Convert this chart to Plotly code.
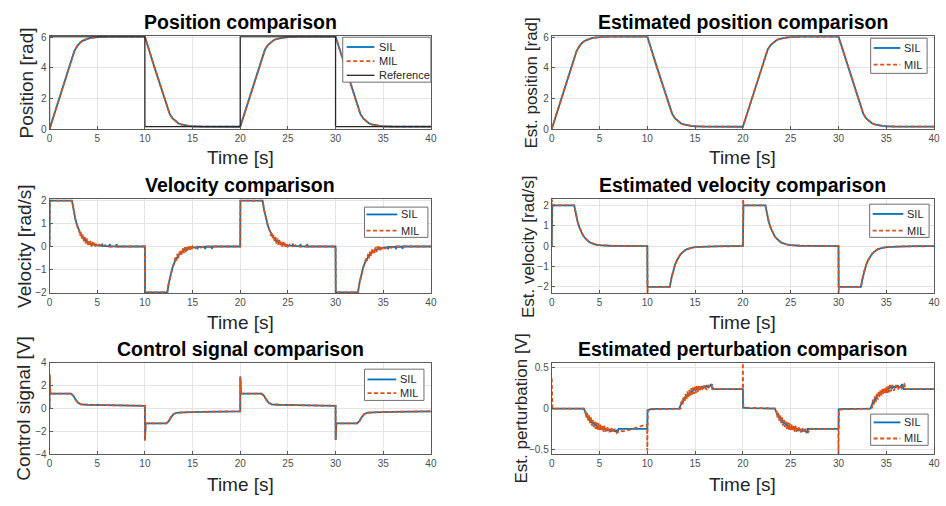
import plotly.graph_objects as go

FONT = "Liberation Sans, Arial, Helvetica, sans-serif"
BLUE = "#0072BD"
ORANGE = "#D95319"
REFC = "#262626"

x_ticks = [0, 5, 10, 15, 20, 25, 30, 35, 40]

# ---------------- Position ----------------
pos_t = [0, 1, 2, 2.35, 2.6, 2.9, 3.2, 3.5, 3.8, 4.2, 4.6, 5, 6, 10,
         11, 12, 12.35, 12.6, 12.9, 13.2, 13.5, 13.8, 14.2, 14.6, 15, 16, 20,
         21, 22, 22.35, 22.6, 22.9, 23.2, 23.5, 23.8, 24.2, 24.6, 25, 26, 30,
         31, 32, 32.35, 32.6, 32.9, 33.2, 33.5, 33.8, 34.2, 34.6, 35, 36, 40]
pos_sil = [0, 2, 4, 4.7, 5.1, 5.43, 5.65, 5.79, 5.88, 5.95, 5.99, 6.02, 6.04, 6.05,
           4.05, 2.05, 1.35, 0.99, 0.70, 0.51, 0.38, 0.30, 0.235, 0.2, 0.18, 0.16, 0.15,
           2.15, 4.15, 4.85, 5.21, 5.49, 5.68, 5.81, 5.89, 5.96, 5.99, 6.02, 6.04, 6.05,
           4.05, 2.05, 1.35, 0.99, 0.70, 0.51, 0.38, 0.30, 0.235, 0.2, 0.18, 0.16, 0.15]
pos_mil = [0, 2, 4, 4.7, 5.1, 5.43, 5.65, 5.79, 5.88, 5.95, 5.99, 6.02, 6.04, 6.05,
           4.05, 2.05, 1.35, 0.99, 0.70, 0.51, 0.38, 0.30, 0.235, 0.2, 0.18, 0.16, 0.15,
           2.15, 4.15, 4.85, 5.21, 5.49, 5.68, 5.81, 5.89, 5.96, 5.99, 6.02, 6.04, 6.05,
           4.05, 2.05, 1.35, 0.99, 0.70, 0.51, 0.38, 0.30, 0.235, 0.2, 0.18, 0.16, 0.15]
ref_t = [0, 0, 10, 10, 20, 20, 30, 30, 40]
ref_pos = [0, 6.05, 6.05, 0.15, 0.15, 6.05, 6.05, 0.15, 0.15]

# ---------------- Estimated position ----------------
est_pos_t = pos_t
est_pos_sil = pos_sil
est_pos_mil = pos_mil

# ---------------- Velocity ----------------
vel_sil_t = [0, 0.02, 2.35, 2.5, 2.7, 2.9, 3.1, 3.3, 3.5, 3.7, 3.9, 4.1, 4.4, 4.7, 5.0,
             5.5, 5.52, 5.56, 6.3, 6.32, 6.36, 7.0, 7.02, 7.06, 8, 10,
             10.02, 12.35, 12.5, 12.7, 12.9, 13.1, 13.3, 13.5, 13.7, 13.9, 14.1, 14.4, 14.7, 15.0,
             15.5, 15.52, 15.56, 16.3, 16.32, 16.36, 17.0, 17.02, 17.06, 18, 20,
             20.02, 22.35, 22.5, 22.7, 22.9, 23.1, 23.3, 23.5, 23.7, 23.9, 24.1, 24.4, 24.7, 25.0,
             25.5, 25.52, 25.56, 26.3, 26.32, 26.36, 27.0, 27.02, 27.06, 28, 30,
             30.02, 32.35, 32.5, 32.7, 32.9, 33.1, 33.3, 33.5, 33.7, 33.9, 34.1, 34.4, 34.7, 35.0,
             35.5, 35.52, 35.56, 36.3, 36.32, 36.36, 37.0, 37.02, 37.06, 38, 40]
vel_sil = [0, 2, 2, 1.61, 1.21, 0.91, 0.69, 0.51, 0.39, 0.29, 0.22, 0.16, 0.11, 0.07, 0.05,
           0.03, 0.13, 0.02, 0.02, 0.12, 0.01, 0.01, 0.11, 0, 0, 0,
           -2, -2, -1.61, -1.21, -0.91, -0.69, -0.51, -0.39, -0.29, -0.22, -0.16, -0.11, -0.07, -0.05,
           -0.03, -0.13, -0.02, -0.02, -0.12, -0.01, -0.01, -0.11, 0, 0, 0,
           2, 2, 1.61, 1.21, 0.91, 0.69, 0.51, 0.39, 0.29, 0.22, 0.16, 0.11, 0.07, 0.05,
           0.03, 0.13, 0.02, 0.02, 0.12, 0.01, 0.01, 0.11, 0, 0, 0,
           -2, -2, -1.61, -1.21, -0.91, -0.69, -0.51, -0.39, -0.29, -0.22, -0.16, -0.11, -0.07, -0.05,
           -0.03, -0.13, -0.02, -0.02, -0.12, -0.01, -0.01, -0.11, 0, 0, 0]
vel_mil_t = [0, 0.02, 2.35, 2.5, 2.7, 2.9, 3.1, 3.2, 3.3, 3.4, 3.5, 3.6, 3.7, 3.8, 3.9, 4.0,
             4.1, 4.2, 4.3, 4.4, 4.5, 4.6, 4.7, 4.8, 4.9, 5.0, 5.2, 5.5, 5.8, 6.2, 7, 10,
             10.02, 12.35, 12.5, 12.7, 12.9, 13.1, 13.2, 13.3, 13.4, 13.5, 13.6, 13.7, 13.8, 13.9, 14.0,
             14.1, 14.2, 14.3, 14.4, 14.5, 14.6, 14.7, 14.8, 14.9, 15.0, 15.2, 15.5, 15.8, 16.2, 17, 20,
             20.02, 22.35, 22.5, 22.7, 22.9, 23.1, 23.2, 23.3, 23.4, 23.5, 23.6, 23.7, 23.8, 23.9, 24.0,
             24.1, 24.2, 24.3, 24.4, 24.5, 24.6, 24.7, 24.8, 24.9, 25.0, 25.2, 25.5, 25.8, 26.2, 27, 30,
             30.02, 32.35, 32.5, 32.7, 32.9, 33.1, 33.2, 33.3, 33.4, 33.5, 33.6, 33.7, 33.8, 33.9, 34.0,
             34.1, 34.2, 34.3, 34.4, 34.5, 34.6, 34.7, 34.8, 34.9, 35.0, 35.2, 35.5, 35.8, 36.2, 37, 40]
vel_mil = [0, 2, 2, 1.61, 1.21, 0.91, 0.69, 0.47, 0.63, 0.32, 0.52, 0.22, 0.42, 0.13, 0.35, 0.07,
           0.29, 0.03, 0.24, 0.0, 0.20, 0.0, 0.16, -0.01, 0.12, 0.0, 0.09, 0.0, 0.06, 0.0, 0.0, 0.0,
           -2, -2, -1.61, -1.21, -0.91, -0.69, -0.47, -0.63, -0.32, -0.52, -0.22, -0.42, -0.13, -0.35, -0.07,
           -0.29, -0.03, -0.24, 0.0, -0.20, 0.0, -0.16, 0.01, -0.12, 0.0, -0.09, 0.0, -0.06, 0.0, 0.0, 0.0,
           2, 2, 1.61, 1.21, 0.91, 0.69, 0.47, 0.63, 0.32, 0.52, 0.22, 0.42, 0.13, 0.35, 0.07,
           0.29, 0.03, 0.24, 0.0, 0.20, 0.0, 0.16, -0.01, 0.12, 0.0, 0.09, 0.0, 0.06, 0.0, 0.0, 0.0,
           -2, -2, -1.61, -1.21, -0.91, -0.69, -0.47, -0.63, -0.32, -0.52, -0.22, -0.42, -0.13, -0.35, -0.07,
           -0.29, -0.03, -0.24, 0.0, -0.20, 0.0, -0.16, 0.01, -0.12, 0.0, -0.09, 0.0, -0.06, 0.0, 0.0, 0.0]

# ---------------- Estimated velocity ----------------
est_vel_t = [0, 0.02, 0.06, 2.35, 2.5, 2.7, 2.9, 3.1, 3.3, 3.5, 3.7, 3.9, 4.1, 4.4, 4.7, 5.0, 5.5, 6, 7, 8,
             10, 10.02, 10.06, 12.35, 12.5, 12.7, 12.9, 13.1, 13.3, 13.5, 13.7, 13.9, 14.1, 14.4, 14.7, 15.0, 15.5, 16, 17, 18,
             20, 20.02, 20.06, 22.35, 22.5, 22.7, 22.9, 23.1, 23.3, 23.5, 23.7, 23.9, 24.1, 24.4, 24.7, 25.0, 25.5, 26, 27, 28,
             30, 30.02, 30.06, 32.35, 32.5, 32.7, 32.9, 33.1, 33.3, 33.5, 33.7, 33.9, 34.1, 34.4, 34.7, 35.0, 35.5, 36, 37, 38, 40]
est_vel_sil = [0, 2, 2, 2, 1.61, 1.21, 0.91, 0.69, 0.51, 0.39, 0.29, 0.22, 0.16, 0.11, 0.07, 0.05, 0.03, 0.02, 0.01, 0,
               0, -2, -2, -2, -1.61, -1.21, -0.91, -0.69, -0.51, -0.39, -0.29, -0.22, -0.16, -0.11, -0.07, -0.05, -0.03, -0.02, -0.01, 0,
               0, 2, 2, 2, 1.61, 1.21, 0.91, 0.69, 0.51, 0.39, 0.29, 0.22, 0.16, 0.11, 0.07, 0.05, 0.03, 0.02, 0.01, 0,
               0, -2, -2, -2, -1.61, -1.21, -0.91, -0.69, -0.51, -0.39, -0.29, -0.22, -0.16, -0.11, -0.07, -0.05, -0.03, -0.02, -0.01, 0, 0]
est_vel_mil = [0, 2.3, 2, 2, 1.61, 1.21, 0.91, 0.69, 0.51, 0.39, 0.29, 0.22, 0.16, 0.11, 0.07, 0.05, 0.03, 0.02, 0.01, 0,
               0, -2.3, -2, -2, -1.61, -1.21, -0.91, -0.69, -0.51, -0.39, -0.29, -0.22, -0.16, -0.11, -0.07, -0.05, -0.03, -0.02, -0.01, 0,
               0, 2.3, 2, 2, 1.61, 1.21, 0.91, 0.69, 0.51, 0.39, 0.29, 0.22, 0.16, 0.11, 0.07, 0.05, 0.03, 0.02, 0.01, 0,
               0, -2.3, -2, -2, -1.61, -1.21, -0.91, -0.69, -0.51, -0.39, -0.29, -0.22, -0.16, -0.11, -0.07, -0.05, -0.03, -0.02, -0.01, 0, 0]

# ---------------- Control signal ----------------
ctrl_t = [0, 0.01, 0.08, 2.25, 2.5, 2.75, 3.0, 3.3, 4, 6, 8, 10,
          10.01, 10.08, 12.25, 12.5, 12.75, 13.0, 13.3, 14, 16, 18, 20,
          20.01, 20.08, 22.25, 22.5, 22.75, 23.0, 23.3, 24, 26, 28, 30,
          30.01, 30.08, 32.25, 32.5, 32.75, 33.0, 33.3, 34, 36, 38, 40]
ctrl_sil = [0, 3.0, 1.3, 1.3, 1.1, 0.75, 0.5, 0.37, 0.33, 0.29, 0.26, 0.24,
            -2.75, -1.3, -1.3, -1.1, -0.75, -0.5, -0.37, -0.33, -0.29, -0.26, -0.24,
            2.8, 1.3, 1.3, 1.1, 0.75, 0.5, 0.37, 0.33, 0.29, 0.26, 0.24,
            -2.75, -1.3, -1.3, -1.1, -0.75, -0.5, -0.37, -0.33, -0.29, -0.26, -0.24]
ctrl_mil = [0, 2.85, 1.3, 1.3, 1.1, 0.75, 0.5, 0.37, 0.33, 0.29, 0.26, 0.24,
            -2.8, -1.3, -1.3, -1.1, -0.75, -0.5, -0.37, -0.33, -0.29, -0.26, -0.24,
            2.7, 1.3, 1.3, 1.1, 0.75, 0.5, 0.37, 0.33, 0.29, 0.26, 0.24,
            -2.8, -1.3, -1.3, -1.1, -0.75, -0.5, -0.37, -0.33, -0.29, -0.26, -0.24]

# ---------------- Estimated perturbation ----------------
pert_sil_t = [0, 3.35, 3.5, 3.6, 3.7, 3.8, 3.9, 4.0, 4.2, 4.4, 4.6, 4.8, 5.0, 5.2, 5.4, 5.6, 5.8, 6.0, 6.2, 6.4, 6.6, 6.8, 6.9, 7.0, 10,
              10.02, 10.5, 13.35, 13.5, 13.6, 13.7, 13.8, 13.9, 14.0, 14.2, 14.4, 14.6, 14.8, 15.0, 15.2, 15.4, 15.6, 15.8, 16.0, 16.2, 16.4, 16.6, 16.7, 16.8, 20,
              20.02, 20.5, 23.35, 23.5, 23.6, 23.7, 23.8, 23.9, 24.0, 24.2, 24.4, 24.6, 24.8, 25.0, 25.2, 25.4, 25.6, 25.8, 26.0, 26.2, 26.4, 26.6, 26.7, 26.8, 30,
              30.02, 30.5, 33.35, 33.5, 33.6, 33.7, 33.8, 33.9, 34.0, 34.2, 34.4, 34.6, 34.8, 35.0, 35.2, 35.4, 35.6, 35.8, 36.0, 36.2, 36.4, 36.6, 36.7, 36.8, 40]
pert_sil = [0, 0, -0.04, -0.08, -0.07, -0.12, -0.11, -0.15, -0.17, -0.19, -0.21, -0.22, -0.24, -0.24, -0.26, -0.25, -0.27, -0.26, -0.28, -0.26, -0.28, -0.27, -0.3, -0.25, -0.25,
            -0.02, -0.005, 0, 0.04, 0.08, 0.07, 0.12, 0.11, 0.15, 0.17, 0.19, 0.21, 0.22, 0.24, 0.24, 0.26, 0.25, 0.27, 0.26, 0.28, 0.26, 0.28, 0.3, 0.24, 0.24,
            0.01, 0.005, 0, -0.04, -0.08, -0.07, -0.12, -0.11, -0.15, -0.17, -0.19, -0.21, -0.22, -0.24, -0.24, -0.26, -0.25, -0.27, -0.26, -0.28, -0.26, -0.28, -0.3, -0.25, -0.25,
            -0.01, -0.005, 0, 0.04, 0.08, 0.07, 0.12, 0.11, 0.15, 0.17, 0.19, 0.21, 0.22, 0.24, 0.24, 0.26, 0.25, 0.27, 0.26, 0.28, 0.26, 0.28, 0.3, 0.24, 0.24]
pert_mil_t = [0, 0.02, 0.08, 3.35, 3.5, 3.6, 3.7, 3.8, 3.9, 4.0, 4.1, 4.2, 4.3, 4.4, 4.5, 4.6, 4.7, 4.8, 4.9, 5.0, 5.1, 5.2, 5.3, 5.4, 5.5, 5.6,
              5.8, 6.0, 6.2, 6.4, 6.6, 6.8, 7.0, 7.5, 8.5, 9.5, 9.98, 10.0,
              10.05, 10.3, 13.35, 13.5, 13.6, 13.7, 13.8, 13.9, 14.0, 14.1, 14.2, 14.3, 14.4, 14.5, 14.6, 14.7, 14.8, 14.9, 15.0, 15.1, 15.2, 15.3, 15.4, 15.5, 15.6,
              15.8, 16.0, 16.2, 16.4, 16.6, 16.8, 16.9, 19.98, 20.0,
              20.05, 20.3, 23.35, 23.5, 23.6, 23.7, 23.8, 23.9, 24.0, 24.1, 24.2, 24.3, 24.4, 24.5, 24.6, 24.7, 24.8, 24.9, 25.0, 25.1, 25.2, 25.3, 25.4, 25.5, 25.6,
              25.8, 26.0, 26.2, 26.4, 26.6, 26.8, 27.0, 29.98, 30.0,
              30.05, 30.3, 33.35, 33.5, 33.6, 33.7, 33.8, 33.9, 34.0, 34.1, 34.2, 34.3, 34.4, 34.5, 34.6, 34.7, 34.8, 34.9, 35.0, 35.1, 35.2, 35.3, 35.4, 35.5, 35.6,
              35.8, 36.0, 36.2, 36.4, 36.6, 36.8, 36.9, 37.0, 40]
pert_mil = [0.37, 0.01, 0, 0, 0.0, -0.11, -0.05, -0.15, -0.08, -0.18, -0.11, -0.21, -0.14, -0.23, -0.16, -0.25, -0.17, -0.26, -0.18, -0.27, -0.19, -0.28, -0.20, -0.29, -0.21, -0.29,
            -0.22, -0.30, -0.23, -0.30, -0.25, -0.30, -0.27, -0.28, -0.25, -0.21, -0.2, -0.52,
            -0.03, -0.01, 0, 0.0, 0.11, 0.05, 0.15, 0.08, 0.18, 0.11, 0.21, 0.14, 0.23, 0.16, 0.25, 0.17, 0.26, 0.18, 0.27, 0.19, 0.28, 0.20, 0.29, 0.21, 0.29,
            0.22, 0.29, 0.23, 0.29, 0.25, 0.3, 0.24, 0.24, 0.56,
            0.02, 0.01, 0, 0.0, -0.11, -0.05, -0.15, -0.08, -0.18, -0.11, -0.21, -0.14, -0.23, -0.16, -0.25, -0.17, -0.26, -0.18, -0.27, -0.19, -0.28, -0.20, -0.29, -0.21, -0.29,
            -0.22, -0.30, -0.23, -0.30, -0.25, -0.30, -0.25, -0.25, -0.56,
            -0.02, -0.01, 0, 0.0, 0.11, 0.05, 0.15, 0.08, 0.18, 0.11, 0.21, 0.14, 0.23, 0.16, 0.25, 0.17, 0.26, 0.18, 0.27, 0.19, 0.28, 0.20, 0.29, 0.21, 0.29,
            0.22, 0.29, 0.23, 0.29, 0.25, 0.29, 0.3, 0.24, 0.24]

# ---------------- Texts ----------------
titles = ["Position comparison", "Estimated position comparison",
          "Velocity comparison", "Estimated velocity comparison",
          "Control signal comparison", "Estimated perturbation comparison"]
ylabels = ["Position [rad]", "Est. position [rad]",
           "Velocity [rad/s]", "Est. velocity [rad/s]",
           "Control signal [V]", "Est. perturbation [V]"]
xlabel = "Time [s]"
series_names = ["SIL", "MIL", "Reference"]
y_ticks = [[0, 2, 4, 6], [0, 2, 4, 6], [-2, -1, 0, 1, 2], [-2, -1, 0, 1, 2],
           [-4, -2, 0, 2, 4], [-0.5, 0, 0.5]]
y_ranges = [[0, 6.07], [0, 6.07], [-2.03, 2.06], [-2.3, 2.3], [-4, 4], [-0.565, 0.565]]

# ---------------- Layout geometry (pixels) ----------------
W, H = 946, 506
col_px = [(47, 432), (554, 940)]
row_px = [(31, 126), (198, 294), (365.3, 459.3)]
MIL_DASH = "4px,2.5px"


def px(x):
    return x / W


def py(y):
    return 1 - y / H


fig = go.Figure()

panels = [
    (pos_t, pos_sil, pos_t, pos_mil),
    (est_pos_t, est_pos_sil, est_pos_t, est_pos_mil),
    (vel_sil_t, vel_sil, vel_mil_t, vel_mil),
    (est_vel_t, est_vel_sil, est_vel_t, est_vel_mil),
    (ctrl_t, ctrl_sil, ctrl_t, ctrl_mil),
    (pert_sil_t, pert_sil, pert_mil_t, pert_mil),
]

for i, (ts, ys, tm, ym) in enumerate(panels):
    k = "" if i == 0 else str(i + 1)
    fig.add_trace(go.Scatter(x=ts, y=ys, mode="lines", name=series_names[0],
                             line=dict(color=BLUE, width=1.8), showlegend=False,
                             xaxis="x" + k, yaxis="y" + k))
    fig.add_trace(go.Scatter(x=tm, y=ym, mode="lines", name=series_names[1],
                             line=dict(color=ORANGE, width=1.8, dash=MIL_DASH), showlegend=False,
                             xaxis="x" + k, yaxis="y" + k))
    if i == 0:
        fig.add_trace(go.Scatter(x=ref_t, y=ref_pos, mode="lines", name=series_names[2],
                                 line=dict(color=REFC, width=1.3), showlegend=False,
                                 xaxis="x", yaxis="y"))

axis_common = dict(showline=True, mirror=True, linecolor="#5a5a5a", linewidth=1,
                   showgrid=True, gridcolor="#e4e4e4", gridwidth=1, zeroline=False,
                   ticks="inside", ticklen=3, tickcolor="#5a5a5a",
                   tickfont=dict(family=FONT, size=10, color="#4d4d4d"))

# legend boxes: (x0, y0, x1, y1, line_x0, line_x1, text_x, entry ys)
legend_geo = [
    (343, 32, 432, 78, 347, 375, 378, [42, 56.5, 71]),
    (876, 33, 933, 69, 879, 906, 908, [43, 60]),
    (365, 206, 429, 237, 367, 398, 400, [213.5, 230]),
    (875, 203, 935, 237, 878, 909, 911, [213, 230]),
    (365, 372, 425, 404, 368, 397, 399, [382.5, 396.5]),
    (876, 418, 934, 450, 879, 906, 908, [426.5, 443]),
]
entry_styles = [(BLUE, "solid", 1.8), (ORANGE, MIL_DASH, 1.8), (REFC, "solid", 1.3)]

annotations = []
shapes = []
for i in range(6):
    r, c = divmod(i, 2)
    k = "" if i == 0 else str(i + 1)
    x0, x1 = col_px[c]
    y0, y1 = row_px[r]
    fig.layout["xaxis" + k] = dict(domain=[px(x0), px(x1)], range=[0, 40], tickvals=x_ticks,
                                   anchor="y" + k, **axis_common)
    fig.layout["yaxis" + k] = dict(domain=[py(y1), py(y0)], range=y_ranges[i], tickvals=y_ticks[i],
                                   anchor="x" + k, **axis_common)
    cx = (x0 + x1) / 2
    title_y = [16.5, 183.5, 351][r]
    xlab_y = [155, 324, 490][r]
    annotations.append(dict(text="<b>" + titles[i] + "</b>", x=px(cx), y=py(title_y),
                            xref="paper", yref="paper", showarrow=False,
                            xanchor="center", yanchor="middle",
                            font=dict(family=FONT, size=19.5, color="black")))
    annotations.append(dict(text=xlabel, x=px(cx), y=py(xlab_y),
                            xref="paper", yref="paper", showarrow=False,
                            xanchor="center", yanchor="middle",
                            font=dict(family=FONT, size=19, color="#262626")))
    ylab_x = [[24, 534], [21, 530], [20.5, 523]][r][c]
    annotations.append(dict(text=ylabels[i], x=px(ylab_x), y=py((y0 + y1) / 2),
                            xref="paper", yref="paper", showarrow=False, textangle=-90,
                            xanchor="center", yanchor="middle",
                            font=dict(family=FONT, size=19 if c == 0 else 17, color="#262626")))

    # legend drawn as shapes + text
    bx0, by0, bx1, by1, lx0, lx1, tx, eys = legend_geo[i]
    shapes.append(dict(type="rect", xref="paper", yref="paper",
                       x0=px(bx0), x1=px(bx1), y0=py(by1), y1=py(by0),
                       fillcolor="white", line=dict(color="#6e6e6e", width=1), layer="above"))
    for j, ey in enumerate(eys):
        colr, dsh, wd = entry_styles[j]
        shapes.append(dict(type="line", xref="paper", yref="paper",
                           x0=px(lx0), x1=px(lx1), y0=py(ey), y1=py(ey),
                           line=dict(color=colr, width=wd, dash=dsh), layer="above"))
        annotations.append(dict(text=series_names[j], x=px(tx), y=py(ey),
                                xref="paper", yref="paper", showarrow=False,
                                xanchor="left", yanchor="middle",
                                font=dict(family=FONT, size=11, color="#262626")))

fig.update_layout(width=W, height=H, margin=dict(l=0, r=0, t=0, b=0),
                  paper_bgcolor="white", plot_bgcolor="white",
                  font=dict(family=FONT), annotations=annotations, shapes=shapes,
                  showlegend=False)

fig.write_html("out.html", config={"displayModeBar": False},
               post_script="document.body.style.margin='0';")
